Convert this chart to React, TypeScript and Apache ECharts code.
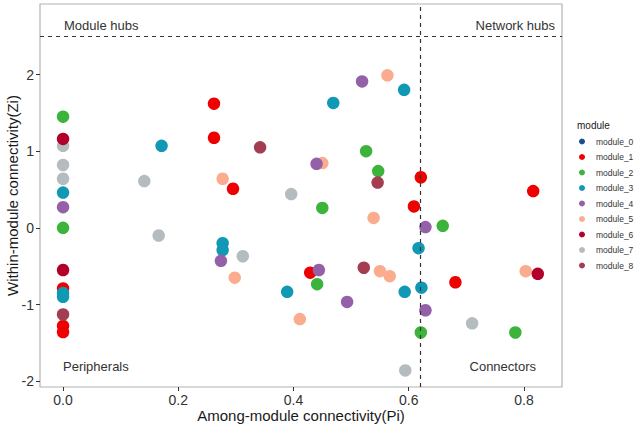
import React, { useEffect, useRef } from "react";
import * as echarts from "echarts";

const moduleNames = ["module_0", "module_1", "module_2", "module_3", "module_4", "module_5", "module_6", "module_7", "module_8"];
const moduleColors = ["#1b4e8e", "#ee0000", "#3cb43c", "#1098b4", "#9461a8", "#fbac8e", "#b3002b", "#b5bcbf", "#a33d52"];

const m0: number[][] = [];
const m1 = [[0, -0.79], [0, -1.28], [0, -1.36], [0.262, 1.62], [0.262, 1.175], [0.295, 0.51], [0.621, 0.66], [0.816, 0.48], [0.609, 0.28], [0.429, -0.585], [0.681, -0.71]];
const m2 = [[0, 1.45], [0, 0.0], [0.45, 0.26], [0.526, 1.0], [0.547, 0.74], [0.659, 0.026], [0.441, -0.735], [0.621, -1.365], [0.785, -1.365]];
const m3 = [[0, 0.46], [0, -0.85], [0, -0.9], [0.171, 1.07], [0.469, 1.63], [0.592, 1.8], [0.277, -0.2], [0.277, -0.29], [0.389, -0.835], [0.617, -0.265], [0.593, -0.835], [0.622, -0.78]];
const m4 = [[0, 0.27], [0.519, 1.91], [0.44, 0.835], [0.274, -0.43], [0.444, -0.55], [0.629, 0.01], [0.493, -0.966], [0.629, -1.075]];
const m5 = [[0.277, 0.64], [0.563, 1.99], [0.45, 0.845], [0.539, 0.13], [0.298, -0.65], [0.55, -0.565], [0.567, -0.63], [0.411, -1.19], [0.803, -0.565]];
const m6 = [[0, 1.16], [0, -0.55], [0.824, -0.6]];
const m7 = [[0, 1.07], [0, 0.82], [0, 0.64], [0.141, 0.61], [0.166, -0.1], [0.312, -0.37], [0.396, 0.44], [0.71, -1.245], [0.594, -1.86]];
const m8 = [[0, -1.13], [0.342, 1.05], [0.546, 0.59], [0.522, -0.52]];

const moduleData = [m0, m1, m2, m3, m4, m5, m6, m7, m8];
const drawOrder = [0, 1, 2, 3, 5, 7, 4, 6, 8];

const xTicks = [0, 0.2, 0.4, 0.6, 0.8];
const yTicks = [-2, -1, 0, 1, 2];
const ziThreshold = 2.5;
const piThreshold = 0.62;

export default function App() {
  const ref = useRef<HTMLDivElement>(null);
  useEffect(() => {
    const chart = echarts.init(ref.current!, null, { renderer: "svg" });
    const font = "Liberation Sans, Arial, sans-serif";
    const series: any[] = drawOrder.map((i) => ({
      name: moduleNames[i],
      type: "scatter",
      data: moduleData[i],
      symbolSize: 12.5,
      itemStyle: { color: moduleColors[i], opacity: 1 },
      emphasis: { disabled: true },
    }));
    series.push({
      name: "thresholds",
      type: "scatter",
      data: [],
      silent: true,
      markLine: {
        silent: true,
        symbol: "none",
        label: { show: false },
        lineStyle: { color: "#333", type: [4, 4], width: 1.2 },
        data: [{ yAxis: ziThreshold }, { xAxis: piThreshold }],
      },
    });
    chart.setOption({
      animation: false,
      textStyle: { fontFamily: font },
      grid: {
        left: 40,
        right: 73,
        top: 4,
        bottom: 39,
        show: true,
        borderColor: "#b3b3b3",
        borderWidth: 1.2,
        backgroundColor: "#fff",
        outerBoundsMode: "none",
        containLabel: false,
      },
      xAxis: {
        type: "value",
        min: -0.04,
        max: 0.866,
        name: "Among-module connectivity(Pi)",
        nameLocation: "middle",
        nameGap: 21,
        nameMoveOverlap: false,
        nameTextStyle: { fontSize: 15, color: "#1a1a1a", fontFamily: font },
        axisLine: { show: false, onZero: false },
        splitLine: { show: false },
        axisTick: { show: true, length: 4, customValues: xTicks, lineStyle: { color: "#333" } },
        axisLabel: {
          customValues: xTicks,
          formatter: (v: number) => v.toFixed(1),
          fontSize: 14,
          color: "#333",
          margin: 6,
          fontFamily: font,
        },
      },
      yAxis: {
        type: "value",
        min: -2.076,
        max: 2.92,
        name: "Within-module connectivity(Zi)",
        nameLocation: "middle",
        nameGap: 20,
        nameMoveOverlap: false,
        nameTextStyle: { fontSize: 15, color: "#1a1a1a", fontFamily: font },
        axisLine: { show: false, onZero: false },
        splitLine: { show: false },
        axisTick: { show: true, length: 4, customValues: yTicks, lineStyle: { color: "#333" } },
        axisLabel: {
          customValues: yTicks,
          formatter: (v: number) => String(v),
          fontSize: 14,
          color: "#333",
          margin: 6,
          fontFamily: font,
        },
      },
      legend: {
        data: moduleNames,
        orient: "vertical",
        left: 579,
        top: 137,
        padding: 0,
        width: 56,
        icon: "circle",
        itemWidth: 14,
        itemHeight: 6,
        itemGap: 6.5,
        textStyle: { fontSize: 8.5, color: "#333", fontFamily: font, width: 40, overflow: "none", padding: [0, 0, 0, 2] },
        selectedMode: false,
      },
      graphic: [
        { type: "text", left: 577, top: 120, style: { text: "module", fontSize: 10, fill: "#1a1a1a", fontFamily: font } },
        { type: "text", x: 64, y: 25, style: { text: "Module hubs", fontSize: 13, fill: "#333", fontFamily: font, verticalAlign: "middle" } },
        { type: "text", x: 555, y: 25, style: { text: "Network hubs", fontSize: 13, fill: "#333", fontFamily: font, align: "right", verticalAlign: "middle" } },
        { type: "text", x: 63, y: 366, style: { text: "Peripherals", fontSize: 13, fill: "#333", fontFamily: font, verticalAlign: "middle" } },
        { type: "text", x: 536, y: 366, style: { text: "Connectors", fontSize: 13, fill: "#333", fontFamily: font, align: "right", verticalAlign: "middle" } },
      ],
      series,
    });
    return () => chart.dispose();
  }, []);
  return <div ref={ref} style={{ width: 635, height: 426, position: "absolute", left: 0, top: 0 }} />;
}
